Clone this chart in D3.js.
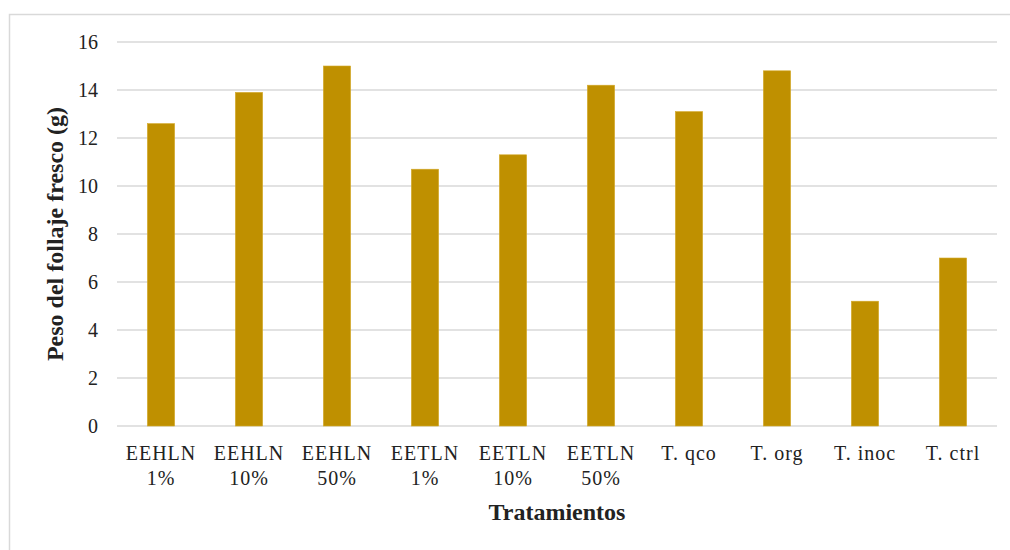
<!DOCTYPE html>
<html>
<head>
<meta charset="utf-8">
<script src="https://cdn.jsdelivr.net/npm/d3@7"></script>
<style>
  body { margin: 0; background: #fff; }
  svg text { font-family: "Liberation Serif", "Times New Roman", serif; fill: #222; }
</style>
</head>
<body>
<div id="chart"></div>
<script>
var categories = ["EEHLN|1%", "EEHLN|10%", "EEHLN|50%", "EETLN|1%", "EETLN|10%", "EETLN|50%", "T. qco", "T. org", "T. inoc", "T. ctrl"];
var values = [12.6, 13.9, 15.0, 10.7, 11.3, 14.2, 13.1, 14.8, 5.2, 7.0];
var yTicks = [0, 2, 4, 6, 8, 10, 12, 14, 16];

var W = 1010, H = 550;
var margin = {top: 42, right: 13, bottom: 124, left: 117},
    width = W - margin.left - margin.right,
    height = H - margin.top - margin.bottom;

var root = d3.select("#chart")
  .append("svg")
    .attr("width", W)
    .attr("height", H);

// chart area border
root.append("rect")
  .attr("x", 9.5).attr("y", 14.5)
  .attr("width", W + 10).attr("height", H + 10)
  .attr("fill", "none")
  .attr("stroke", "#d9d9d9")
  .attr("stroke-width", 1.5);

var svg = root.append("g")
  .attr("transform", "translate(" + margin.left + "," + margin.top + ")");

var x = d3.scaleBand()
  .domain(categories)
  .range([0, width])
  .paddingInner(0.69)
  .paddingOuter(0.345);

var y = d3.scaleLinear()
  .domain([0, 16])
  .range([height, 0]);

// gridlines
svg.append("g")
  .selectAll("line")
  .data(yTicks)
  .enter()
  .append("line")
    .attr("x1", 0)
    .attr("x2", width)
    .attr("y1", function (d) { return y(d); })
    .attr("y2", function (d) { return y(d); })
    .attr("stroke", "#d9d9d9")
    .attr("stroke-width", 1.5);

// y axis labels
var yAxis = svg.append("g")
  .call(d3.axisLeft(y).tickValues(yTicks).tickSize(0).tickPadding(19));
yAxis.select(".domain").remove();
yAxis.selectAll("text")
  .style("font-size", "20px")
  .attr("fill", "#222");

// bars
svg.append("g")
  .selectAll("rect")
  .data(values)
  .enter()
  .append("rect")
    .attr("x", function (d, i) { return x(categories[i]); })
    .attr("y", function (d) { return y(d); })
    .attr("width", x.bandwidth())
    .attr("height", function (d) { return height - y(d); })
    .attr("fill", "#BF9000")
    .attr("stroke", "#D4AA2A")
    .attr("stroke-width", 0.6);

// x axis labels (two lines)
var xAxis = svg.append("g")
  .attr("transform", "translate(0," + height + ")")
  .call(d3.axisBottom(x).tickSize(0).tickFormat(""));
xAxis.select(".domain").remove();
xAxis.selectAll(".tick").each(function (d) {
  var parts = d.split("|");
  var t = d3.select(this).append("text")
    .attr("text-anchor", "middle")
    .attr("fill", "#222")
    .style("font-size", "20px")
    .style("letter-spacing", "1px");
  parts.forEach(function (p, k) {
    t.append("tspan")
      .attr("x", 0)
      .attr("y", 34 + k * 25)
      .text(p);
  });
});

// axis titles
root.append("text")
  .attr("x", margin.left + width / 2)
  .attr("y", 520)
  .attr("text-anchor", "middle")
  .style("font-size", "24px")
  .style("font-weight", "bold")
  .attr("fill", "#111")
  .text("Tratamientos");

root.append("text")
  .attr("transform", "translate(63," + (margin.top + height / 2) + ") rotate(-90)")
  .attr("text-anchor", "middle")
  .style("font-size", "24px")
  .style("font-weight", "bold")
  .attr("fill", "#111")
  .text("Peso del follaje fresco (g)");
</script>
</body>
</html>
